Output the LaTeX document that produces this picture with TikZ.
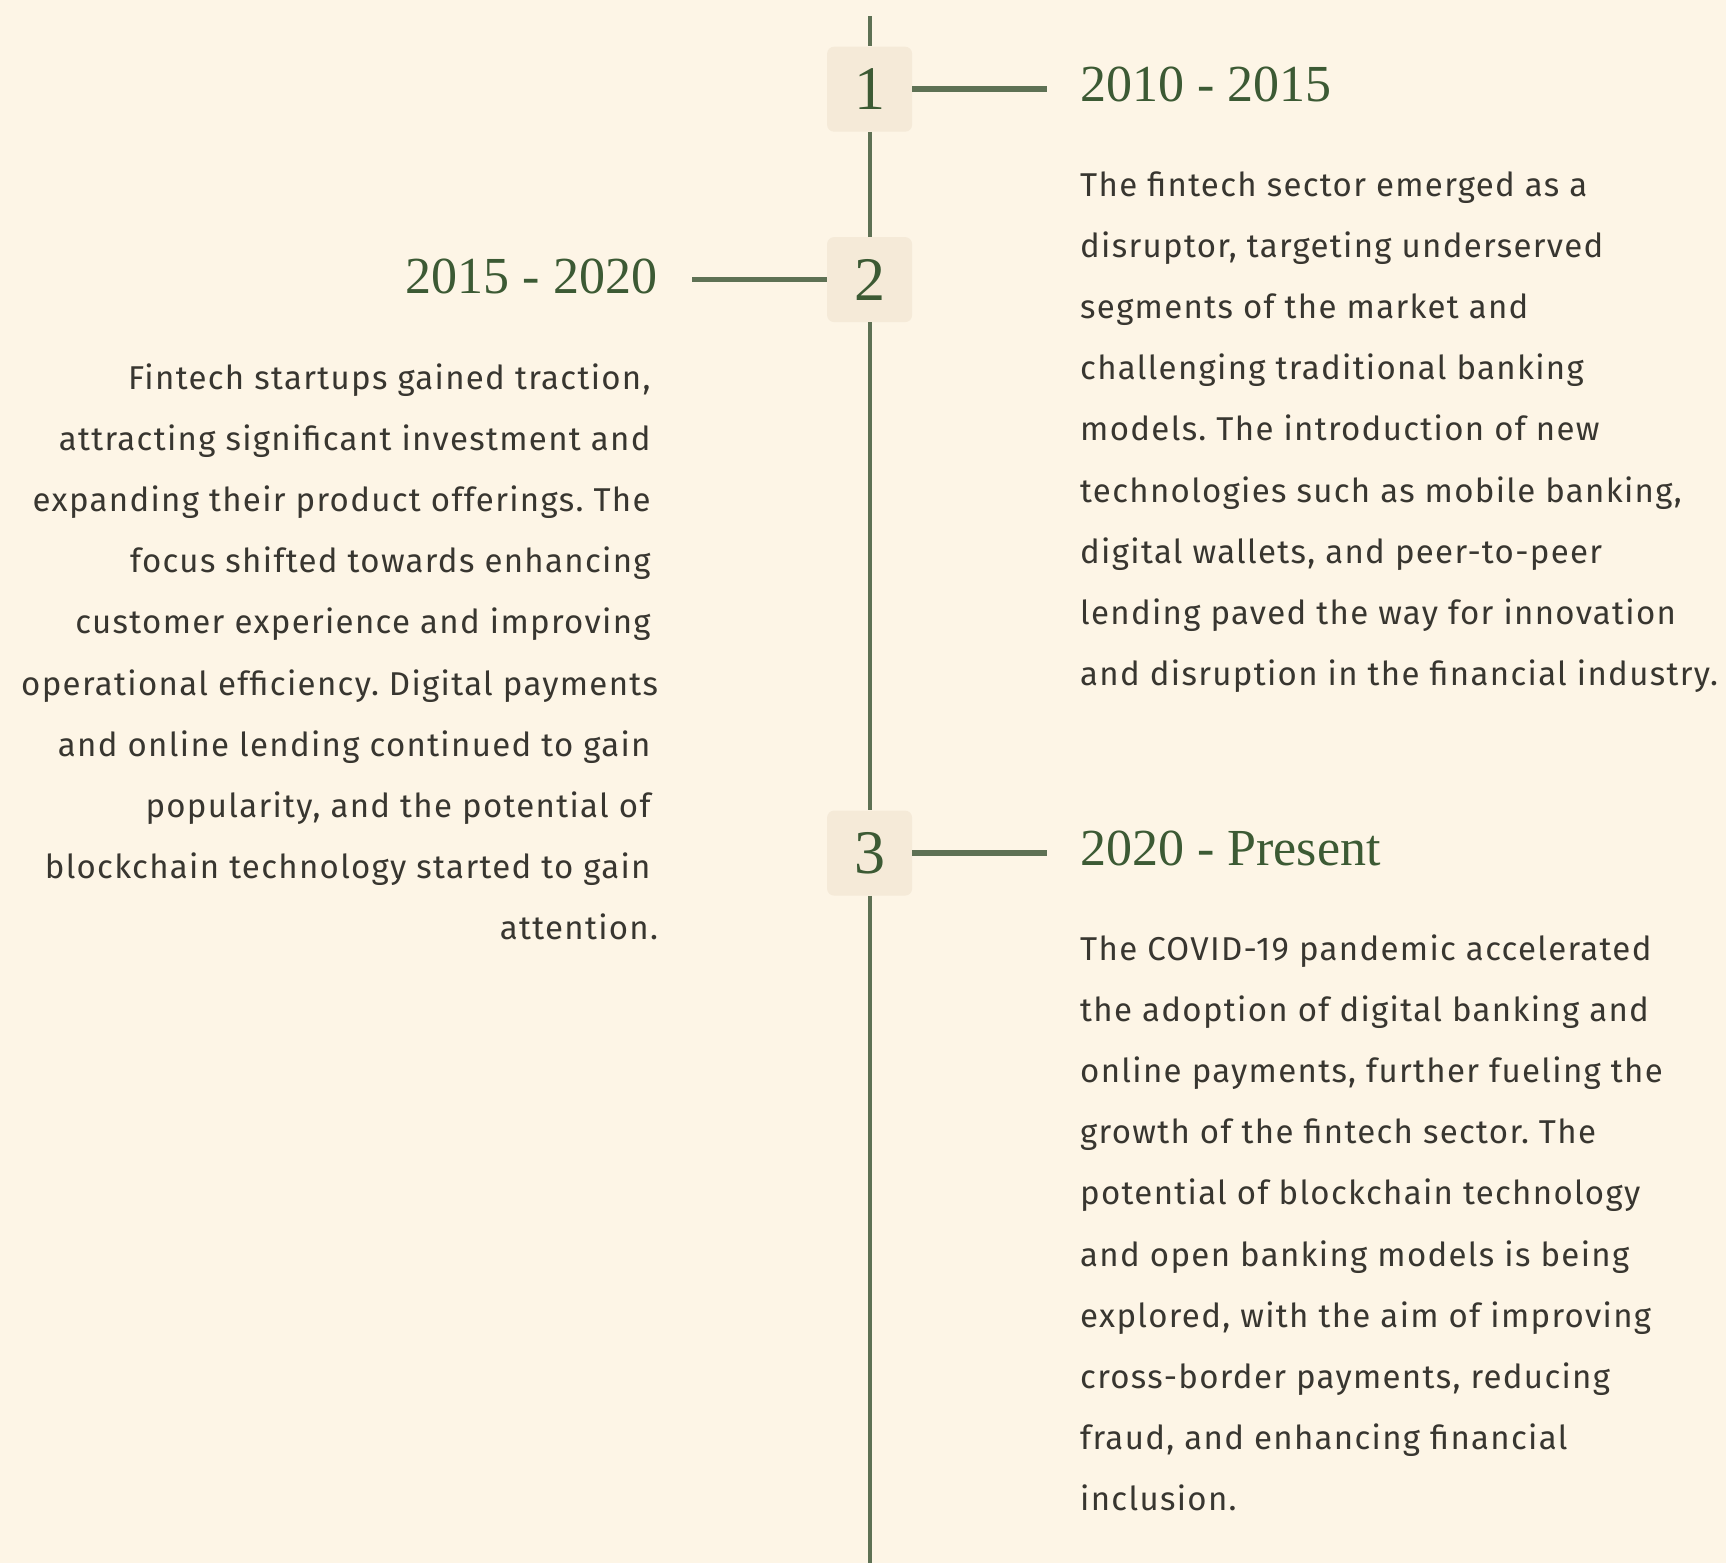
\documentclass[tikz,border=0pt]{standalone}
\usepackage{fontspec}
\newfontfamily\blurbfont[LetterSpace=4]{Fira Sans}
\newfontfamily\erafont{Liberation Serif}
\usepackage{tikz}
\usetikzlibrary{positioning}
\definecolor{paper}{RGB}{253,245,230}
\definecolor{tile}{RGB}{245,234,216}
\definecolor{stem}{RGB}{94,113,84}
\definecolor{moss}{RGB}{60,90,52}
\definecolor{ink}{RGB}{56,54,48}
% room left by a trailing space on right-aligned lines
\newcommand{\trail}{\hbox to 7.5pt{}}
\tikzset{
  numtile/.style={fill=tile,rounded corners=7pt,minimum size=85pt,inner sep=0pt,
    text=moss,font=\erafont\fontsize{62}{62}\selectfont},
  era/.style={text=moss,font=\erafont\fontsize{52}{60}\selectfont,inner ysep=0pt},
  blurb/.style={text=ink,font=\blurbfont\fontsize{33}{61.2}\selectfont\frenchspacing,inner sep=0pt},
  spine/.style={draw=stem,line width=3.8pt},
  link/.style={draw=stem,line width=5.5pt},
}

\begin{document}
\begin{tikzpicture}[x=1pt,y=1pt]
  \fill[paper] (0,0) rectangle (1726,-1563);
  \useasboundingbox (0,0) rectangle (1726,-1563);

  \coordinate (top) at (869.6,-16.5);
  \coordinate (bottom) at (869.6,-1563);
  \node[numtile] (n1) at (869.6,-89.2) {1};
  \node[numtile] (n2) at (869.6,-279.6) {2};
  \node[numtile] (n3) at (869.6,-853.1) {3};
  \draw[spine] (top) -- (n1) (n1) -- (n2) (n2) -- (n3) (n3) -- (bottom);

  \node[era,anchor=base west,inner xsep=33pt] (y1) at (1047,-101) {2010 - 2015};
  \node[era,anchor=base east,inner xsep=35pt] (y2) at (692.4,-293) {2015 - 2020};
  \node[era,anchor=base west,inner xsep=33pt] (y3) at (1047,-865) {2020 - Present};
  \draw[link] (n1) -- (n1 -| y1.west);
  \draw[link] (n2) -- (n2 -| y2.east);
  \draw[link] (n3) -- (n3 -| y3.west);

  % blurbs hang from the baseline of their last line
  \node[blurb,anchor=base west,align=left] (b1) at (1080,-685.6) {The fintech sector emerged as a\\
    disruptor, targeting underserved\\
    segments of the market and\\
    challenging traditional banking\\
    models. The introduction of new\\
    technologies such as mobile banking,\\
    digital wallets, and peer-to-peer\\
    lending paved the way for innovation\\
    and disruption in the financial industry.};
  \node[blurb,anchor=base east,align=right] (b2) at (658.3,-939.8) {Fintech startups gained traction,\trail\\
    attracting significant investment and\trail\\
    expanding their product offerings. The\trail\\
    focus shifted towards enhancing\trail\\
    customer experience and improving\trail\\
    operational efficiency. Digital payments\\
    and online lending continued to gain\trail\\
    popularity, and the potential of\trail\\
    blockchain technology started to gain\trail\\
    attention.};
  \node[blurb,anchor=base west,align=left] (b3) at (1080,-1510.8) {The COVID-19 pandemic accelerated\\
    the adoption of digital banking and\\
    online payments, further fueling the\\
    growth of the fintech sector. The\\
    potential of blockchain technology\\
    and open banking models is being\\
    explored, with the aim of improving\\
    cross-border payments, reducing\\
    fraud, and enhancing financial\\
    inclusion.};
\end{tikzpicture}
\end{document}
